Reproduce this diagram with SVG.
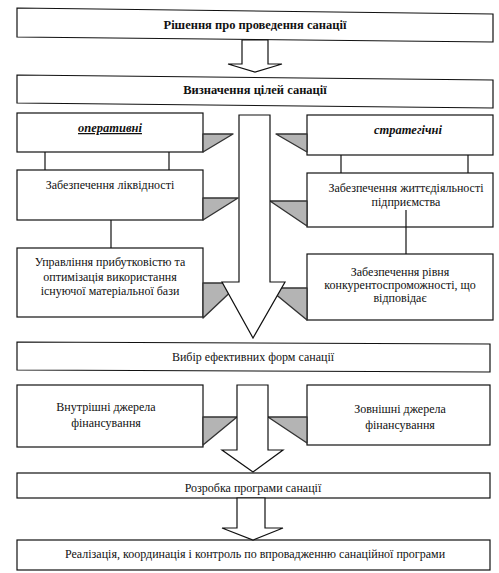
<svg xmlns="http://www.w3.org/2000/svg" width="499" height="573" viewBox="0 0 499 573">
<style>
.box{fill:#fff;stroke:#111;stroke-width:1.2}
.arr{fill:#fff;stroke:#111;stroke-width:1.2;stroke-linejoin:miter}
.tri{fill:#b4b4b4;stroke:#333;stroke-width:1.4;stroke-linejoin:round}
.ln{stroke:#111;stroke-width:1.2;fill:none}
text{font-family:"Liberation Serif","Times New Roman",serif;font-size:12px;fill:#111;text-anchor:middle}
.b{font-weight:bold;font-size:12.5px}
.bi{font-weight:bold;font-style:italic;font-size:12.5px}
</style>
<rect width="499" height="573" fill="#fff"/>

<g id="n1"><polygon class="box" points="17,8 493,14 493,42 17,37"/><text class="b" x="255" y="29">Рішення про проведення санації</text></g>
<g id="n2"><polygon class="box" points="17,75 493,80 493,108 17,103"/><text class="b" x="255" y="94">Визначення цілей санації</text></g>
<g id="n3"><rect class="box" x="17" y="113" width="186" height="39"/><text class="bi" x="110" y="132" text-decoration="underline">оперативні</text></g>
<g id="n4"><rect class="box" x="307" y="115" width="186" height="40"/><text class="bi" x="408" y="134">стратегічні</text></g>
<g id="n5"><rect class="box" x="17" y="170" width="186" height="50"/><text x="110" y="189">Забезпечення ліквідності</text></g>
<g id="n6"><rect class="box" x="307" y="173" width="186" height="54"/><text x="406" y="192">Забезпечення життєдіяльності</text><text x="406" y="206">підприємства</text></g>
<g id="n7"><rect class="box" x="17" y="248" width="186" height="69"/><text x="110" y="266">Управління прибутковістю та</text><text x="110" y="281">оптимізація використання</text><text x="110" y="295">існуючої матеріальної бази</text></g>
<g id="n8"><rect class="box" x="307" y="254" width="186" height="66"/><text x="400" y="276">Забезпечення рівня</text><text x="400" y="289">конкурентоспроможності, що</text><text x="400" y="302">відповідає</text></g>
<g id="n9"><polygon class="box" points="17,342 490,344 490,372 17,370"/><text x="253" y="361">Вибір ефективних форм санації</text></g>
<g id="n10"><rect class="box" x="17" y="385" width="186" height="62"/><text x="106" y="411">Внутрішні джерела</text><text x="106" y="427">фінансування</text></g>
<g id="n11"><rect class="box" x="307" y="385" width="183" height="60"/><text x="400" y="413">Зовнішні джерела</text><text x="400" y="429">фінансування</text></g>
<g id="n12"><rect class="box" x="17" y="473" width="473" height="25"/><text x="253" y="492">Розробка програми санації</text></g>
<g id="n13"><rect class="box" x="17" y="540" width="473" height="30"/><text x="255" y="558">Реалізація, координація і контроль по впровадженню санаційної програми</text></g>

<g id="connectors">
<line class="ln" x1="45" y1="152" x2="45" y2="170"/>
<line class="ln" x1="169" y1="152" x2="169" y2="170"/>
<line class="ln" x1="341" y1="155" x2="341" y2="173"/>
<line class="ln" x1="468" y1="155" x2="468" y2="173"/>
<line class="ln" x1="111" y1="220" x2="111" y2="248"/>
<line class="ln" x1="406" y1="210" x2="406" y2="254"/>
<polygon class="tri" points="203,134 233,134 203,152"/>
<polygon class="tri" points="276,134 307,134 307,152"/>
<polygon class="tri" points="203,198 238,198 203,220"/>
<polygon class="tri" points="270,201 307,201 307,226"/>
<polygon class="tri" points="203,283 240,283 203,318"/>
<polygon class="tri" points="268,288 307,288 307,320"/>
<polygon class="tri" points="203,417 237,417 203,445"/>
<polygon class="tri" points="268,417 307,417 307,443"/>
<polygon class="arr" points="242,40 268,40 268,64 282,64 255,72 228,64 242,64"/>
<polygon class="arr" points="239,115 270,115 270,282 285,282 253,338 222,282 239,282"/>
<polygon class="arr" points="237,385 268,385 268,450 283,450 253,472 222,450 237,450"/>
<polygon class="arr" points="237,498 265,498 265,528 283,528 253,540 222,528 237,528"/>
</g>
</svg>
